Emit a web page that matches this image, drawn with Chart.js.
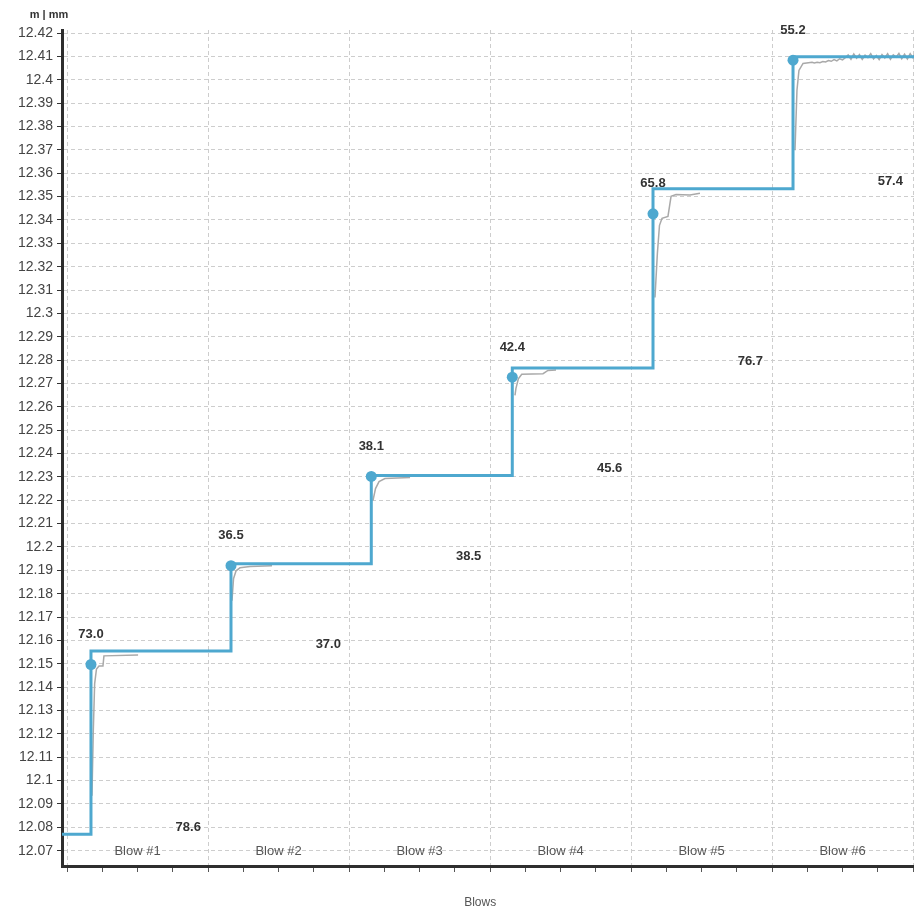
<!DOCTYPE html>
<html>
<head>
<meta charset="utf-8">
<title>Blows</title>
<script src="https://cdn.jsdelivr.net/npm/chart.js@4.4.0/dist/chart.umd.min.js"></script>
<style>
  html, body { margin: 0; padding: 0; background: #ffffff; overflow: hidden; }
  #wrap { width: 914px; height: 910px; }
  canvas { display: block; }
</style>
</head>
<body>
<div id="wrap"><canvas id="c" width="914" height="910"></canvas></div>
<script>
// Blow names shown inside each blow interval
const blowLabels = ['Blow #1', 'Blow #2', 'Blow #3', 'Blow #4', 'Blow #5', 'Blow #6'];

// Position of each blow along the x axis (blow index units)
const blowX = [0.170, 1.163, 2.158, 3.158, 4.156, 5.149];

// Settled level (m) before the first blow and after each blow
const levelStart = 12.077;
const levels = [12.1555, 12.1928, 12.2306, 12.2766, 12.3534, 12.4098];

// Level recorded at the moment of each blow (dot markers)
const markerY = [12.1497, 12.1920, 12.2302, 12.2727, 12.3426, 12.4084];

// Values printed above each blow marker and beside the previous level
const peakLabels = ['73.0', '36.5', '38.1', '42.4', '65.8', '55.2'];
const sideLabels = ['78.6', '37.0', '38.5', '45.6', '76.7', '57.4'];

// Raw settlement trace for each blow: [x, level]
const traceBlow1 = [[0.177, 12.0935], [0.1865, 12.1213], [0.196, 12.1414], [0.209, 12.1478], [0.227, 12.1491], [0.255, 12.1491], [0.262, 12.1534], [0.504, 12.1538]];
const traceBlow2 = [[1.170, 12.1770], [1.181, 12.1864], [1.199, 12.1898], [1.227, 12.1911], [1.298, 12.1917], [1.454, 12.1920]];
const traceBlow3 = [[2.170, 12.2199], [2.188, 12.2250], [2.213, 12.2280], [2.255, 12.2293], [2.433, 12.2297]];
const traceBlow4 = [[3.177, 12.2649], [3.184, 12.2679], [3.201, 12.2720], [3.225, 12.2739], [3.376, 12.2742], [3.411, 12.2756], [3.468, 12.2758]];
const traceBlow5 = [[4.170, 12.3068], [4.187, 12.3257], [4.202, 12.3377], [4.220, 12.3407], [4.262, 12.3415], [4.284, 12.3501], [4.319, 12.3509], [4.418, 12.3507], [4.489, 12.3514]];
const traceBlow6 = [[5.163, 12.3698], [5.177, 12.3955], [5.191, 12.4040], [5.220, 12.4070], [5.284, 12.4075],
  [5.30, 12.4072], [5.32, 12.4075], [5.34, 12.4073], [5.36, 12.4078], [5.38, 12.4076], [5.40, 12.4082],
  [5.42, 12.4079], [5.44, 12.4086], [5.46, 12.4081], [5.48, 12.4090], [5.50, 12.4085], [5.52, 12.4094],
  [5.54, 12.4106], [5.56, 12.4088], [5.58, 12.4110], [5.60, 12.4092], [5.62, 12.4108], [5.64, 12.4087],
  [5.66, 12.4105], [5.68, 12.4095], [5.70, 12.4112], [5.72, 12.4089], [5.74, 12.4104], [5.76, 12.4086],
  [5.78, 12.4108], [5.80, 12.4093], [5.82, 12.4111], [5.84, 12.4088], [5.86, 12.4107], [5.88, 12.4097],
  [5.90, 12.4113], [5.92, 12.4090], [5.94, 12.4109], [5.96, 12.4089], [5.98, 12.4112], [6.00, 12.4094], [6.007, 12.4106]];
const traces = [traceBlow1, traceBlow2, traceBlow3, traceBlow4, traceBlow5, traceBlow6];

// Axis ticks
const yTicks = [12.07, 12.08, 12.09, 12.10, 12.11, 12.12, 12.13, 12.14, 12.15, 12.16, 12.17, 12.18,
  12.19, 12.20, 12.21, 12.22, 12.23, 12.24, 12.25, 12.26, 12.27, 12.28, 12.29, 12.30,
  12.31, 12.32, 12.33, 12.34, 12.35, 12.36, 12.37, 12.38, 12.39, 12.40, 12.41, 12.42];
const yTickLabels = ['12.07', '12.08', '12.09', '12.1', '12.11', '12.12', '12.13', '12.14', '12.15', '12.16', '12.17', '12.18',
  '12.19', '12.2', '12.21', '12.22', '12.23', '12.24', '12.25', '12.26', '12.27', '12.28', '12.29', '12.3',
  '12.31', '12.32', '12.33', '12.34', '12.35', '12.36', '12.37', '12.38', '12.39', '12.4', '12.41', '12.42'];
const xTicks = [0, 0.25, 0.5, 0.75, 1, 1.25, 1.5, 1.75, 2, 2.25, 2.5, 2.75, 3, 3.25, 3.5, 3.75,
  4, 4.25, 4.5, 4.75, 5, 5.25, 5.5, 5.75, 6];

const yAxisUnit = 'm | mm';
const xAxisTitle = 'Blows';

const BLUE = '#4ea8cf';
const GRAY = '#a9a9a9';
const GRID = '#cdcdcd';
const FONT = '"Liberation Sans", Arial, sans-serif';

// Step line of settled levels
const stepData = [{ x: -0.0355, y: levelStart }]
  .concat(blowX.map((x, i) => ({ x: x, y: levels[i] })))
  .concat([{ x: 6.007, y: levels[levels.length - 1] }]);

const datasets = [
  {
    label: 'blow',
    data: blowX.map((x, i) => ({ x: x, y: markerY[i] })),
    showLine: false,
    pointRadius: 5.5,
    pointBackgroundColor: BLUE,
    pointBorderColor: BLUE,
    pointBorderWidth: 0
  },
  {
    label: 'level',
    data: stepData,
    stepped: true,
    borderColor: BLUE,
    borderWidth: 3,
    pointRadius: 0,
    fill: false
  }
].concat(traces.map((t, i) => ({
  label: 'trace ' + (i + 1),
  data: t.map(p => ({ x: p[0], y: p[1] })),
  borderColor: GRAY,
  borderWidth: 1.5,
  pointRadius: 0,
  tension: 0,
  fill: false
})));

// Text annotations: values at each blow, blow names, unit and axis title
const annotations = {
  id: 'annotations',
  afterDatasetsDraw(chart) {
    const { ctx, scales: { x, y } } = chart;
    ctx.save();
    ctx.textAlign = 'center';
    ctx.textBaseline = 'middle';

    ctx.fillStyle = '#333333';
    ctx.font = 'bold 13px ' + FONT;
    blowX.forEach((bx, i) => {
      ctx.fillText(peakLabels[i], x.getPixelForValue(bx), y.getPixelForValue(markerY[i]) - 30);
      const prev = i === 0 ? levelStart : levels[i - 1];
      ctx.fillText(sideLabels[i], x.getPixelForValue(bx + 0.69), y.getPixelForValue(prev) - 7);
    });

    ctx.fillStyle = '#555555';
    ctx.font = '13px ' + FONT;
    blowLabels.forEach((name, i) => {
      ctx.fillText(name, x.getPixelForValue(i + 0.5), y.getPixelForValue(12.07) + 1);
    });

    ctx.fillStyle = '#333333';
    ctx.font = 'bold 11px ' + FONT;
    ctx.fillText(yAxisUnit, 49, 15);

    ctx.fillStyle = '#555555';
    ctx.font = '12px ' + FONT;
    ctx.fillText(xAxisTitle, x.getPixelForValue(2.93), 903);
    ctx.restore();
  }
};

new Chart(document.getElementById('c'), {
  type: 'line',
  data: { datasets: datasets },
  plugins: [annotations],
  options: {
    responsive: false,
    animation: false,
    layout: { autoPadding: false, padding: { top: 30, right: 0, bottom: 0, left: 0 } },
    plugins: { legend: { display: false }, tooltip: { enabled: false } },
    scales: {
      x: {
        type: 'linear',
        min: -0.0355,
        max: 6.007,
        afterBuildTicks: s => { s.ticks = xTicks.map(v => ({ value: v })); },
        afterFit: s => { s.height = 44; },
        ticks: { display: false, autoSkip: false },
        grid: {
          color: c => (c.tick && Number.isInteger(c.tick.value)) ? GRID : 'rgba(0,0,0,0)',
          lineWidth: 1,
          tickColor: '#555555',
          tickLength: 6,
          tickWidth: 1,
          tickBorderDash: []
        },
        border: { display: true, color: '#2e2e2e', width: 3, dash: [4, 3] }
      },
      y: {
        type: 'linear',
        min: 12.06345,
        max: 12.4213,
        afterBuildTicks: s => { s.ticks = yTicks.map(v => ({ value: v })); },
        afterFit: s => { s.width = 62; },
        ticks: {
          autoSkip: false,
          padding: 4,
          color: '#444444',
          font: { family: FONT, size: 14 },
          callback: (v, i) => yTickLabels[i]
        },
        grid: {
          color: GRID,
          lineWidth: 1,
          tickColor: '#333333',
          tickLength: 5,
          tickWidth: 1,
          tickBorderDash: []
        },
        border: { display: true, color: '#2e2e2e', width: 3, dash: [4, 3] }
      }
    }
  }
});
</script>
</body>
</html>
